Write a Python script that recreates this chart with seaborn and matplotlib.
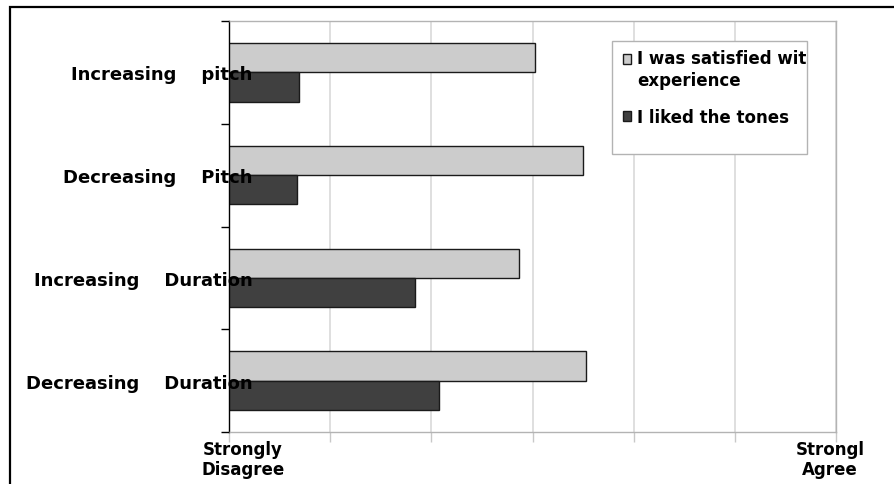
import matplotlib
matplotlib.use("Agg")
import matplotlib.pyplot as plt
import seaborn as sns
import pandas as pd
from matplotlib.patches import Rectangle, Patch
from matplotlib.transforms import ScaledTranslation

# Survey responses on a 1-7 agreement scale
conditions = ["Increasing    pitch", "Decreasing    Pitch",
              "Increasing    Duration", "Decreasing    Duration"]
series = ["I was satisfied wit\nexperience", "I liked the tones"]
satisfied = [4.02, 4.50, 3.87, 4.53]
liked = [1.69, 1.67, 2.84, 3.08]
scale_ticks = [1, 2, 3, 4, 5, 6, 7]
scale_labels = ["Strongly\nDisagree", "", "", "", "", "", "Strongl\nAgree"]
colors = ["#cccccc", "#404040"]

df = pd.DataFrame({
    "condition": conditions * 2,
    "series": [series[0]] * len(conditions) + [series[1]] * len(conditions),
    "score": satisfied + liked,
})

sns.set_style("white")
plt.rcParams["font.family"] = ["DejaVu Sans"]
plt.rcParams["font.weight"] = "bold"
for key in ("text.color", "axes.labelcolor", "xtick.labelcolor", "ytick.labelcolor"):
    plt.rcParams[key] = "black"

W, H = 894, 485
fig = plt.figure(figsize=(W / 100, H / 100), dpi=100)
ax = fig.add_axes([229 / W, (H - 433) / H, 607 / W, 411 / H])

sns.barplot(data=df, y="condition", x="score", hue="series",
            order=conditions, hue_order=series, palette=colors,
            saturation=1, orient="h", width=0.57,
            edgecolor="#1a1a1a", linewidth=1, legend=False,
            ax=ax, zorder=2)

ax.set_xlim(1, 7)
ax.set_ylim(3.5, -0.5)
ax.set_xlabel("")
ax.set_ylabel("")

# category boundaries carry the tick marks, centres carry the labels
ax.set_yticks([-0.5, 0.5, 1.5, 2.5, 3.5], [""] * 5)
ax.set_yticks(range(len(conditions)), conditions, minor=True)
ax.set_xticks(scale_ticks, scale_labels)

ax.tick_params(axis="y", which="major", left=True, length=6, width=1,
               color="black", direction="out")
ax.tick_params(axis="y", which="minor", left=True, length=0, pad=-17,
               labelsize=13, labelcolor="black")
ax.tick_params(axis="x", which="major", bottom=True, length=7, width=1,
               color="#c8c8c8", direction="out", pad=-1, labelsize=12,
               labelcolor="black")

ax.grid(axis="x", color="#d9d9d9", lw=1.2)
ax.set_axisbelow(True)
ax.yaxis.set_zorder(5)

for name, sp in ax.spines.items():
    sp.set_visible(True)
    sp.set_linewidth(1)
    sp.set_color("black" if name == "left" else "#b3b3b3")

offsets = {0: 14, len(scale_ticks) - 1: -6}
for i, lab in enumerate(ax.get_xticklabels()):
    lab.set_linespacing(1.15)
    if i in offsets:
        lab.set_transform(lab.get_transform() +
                          ScaledTranslation(offsets[i] / 100, 0, fig.dpi_scale_trans))

# outer border
fig.add_artist(Rectangle((10 / W, -0.05), 1.0, (H - 7.5) / H + 0.05,
                         transform=fig.transFigure, fill=False,
                         ec="black", lw=1.6, zorder=1))

# legend box
fig.add_artist(Rectangle((612 / W, (H - 155) / H), 195 / W, 113 / H,
                         transform=fig.transFigure, fc="white",
                         ec="#b3b3b3", lw=1, zorder=2))

handles = [Patch(fc=c, ec="#1a1a1a", lw=1) for c in colors]
leg = fig.legend(handles=handles, labels=series, loc="upper left",
                 bbox_to_anchor=(623 / W, (H - 50) / H),
                 bbox_transform=fig.transFigure, frameon=False,
                 borderpad=0, borderaxespad=0, handlelength=0.5,
                 handleheight=0.5, handletextpad=0.35, labelspacing=1.15,
                 fontsize=12)
leg.set_zorder(5)
for t in leg.get_texts():
    t.set_linespacing(1.25)
# keep the first marker beside the first line of its two-line label
h0 = leg.legend_handles[0]
h0.set_y(h0.get_y() + 7.9)

fig.savefig("out.png", dpi=100)
